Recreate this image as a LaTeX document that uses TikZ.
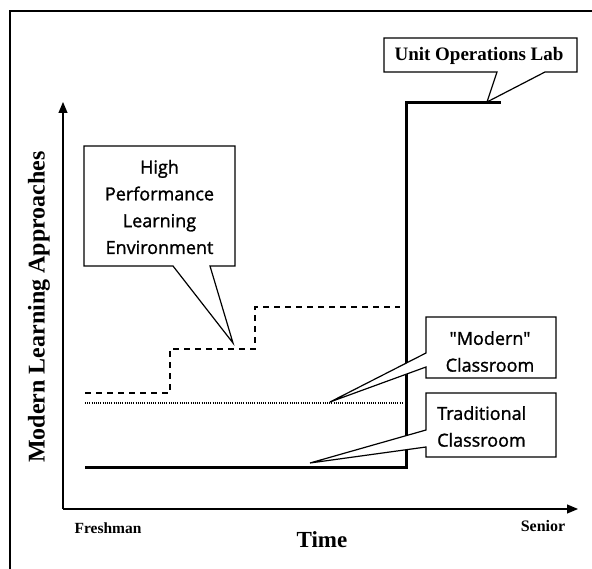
\documentclass[tikz,border=0pt]{standalone}
\usepackage{fontspec}
\setmainfont{Liberation Serif}
\newfontfamily\calloutfont[FakeBold=1.3]{Open Sans}
\usetikzlibrary{arrows.meta}
\begin{document}
\begin{tikzpicture}[x=1pt,y=-1pt,
  frameline/.style={line width=2.4pt},
  axisline/.style={line width=1.1pt,-{Triangle[length=11pt,width=9pt]}},
  callout/.style={line width=1.2pt,fill=white,line join=miter},
  callouttext/.style={font=\calloutfont\fontsize{18}{26.8}\selectfont,align=center,inner sep=0pt},
  labeltext/.style={font=\bfseries,inner sep=0pt},
  tradline/.style={line width=3pt},
  hpleline/.style={line width=1.8pt,dash pattern=on 6pt off 5pt},
  modernline/.style={line width=1.5pt,dash pattern=on 1pt off 1.2pt}]
\useasboundingbox (0,0) rectangle (592,569);
\fill[white] (0,0) rectangle (592,569);

% outer frame (open at right and bottom)
\draw[frameline] (10,569) -- (10,11) -- (592,11);

% axes
\coordinate (origin) at (63,509);
\coordinate (ytip) at (63,102);
\coordinate (xtip) at (578,509);
\draw[axisline] (origin) -- (ytip);
\draw[axisline] (origin) -- (xtip);

% axis labels
\node[labeltext,font=\bfseries\fontsize{15.5}{18}\selectfont] (fresh) at (108,528) {Freshman};
\node[labeltext,font=\bfseries\fontsize{16}{18}\selectfont] (senior) at (543,526) {Senior};
\node[labeltext,font=\bfseries\fontsize{23}{26}\selectfont] (time) at (322,540) {Time};
\node[labeltext,font=\bfseries\fontsize{24}{28}\selectfont,rotate=90] (ylab) at (39,307) {Modern Learning Approaches};

% curves
\draw[tradline] (85,467) -- (406,467) -- (406,103) -- (501,103);
\draw[hpleline] (85,393) -- (170,393) -- (170,349) -- (255,349) -- (255,307) -- (400,307);
\draw[modernline] (85,403) -- (403,403);

% pointer tips
\coordinate (hpletip) at (233,343);
\coordinate (moderntip) at (330,402);
\coordinate (tradtip) at (310,463);
\coordinate (uoltip) at (487,102);

% High Performance Learning Environment callout
\draw[callout] (84,146) -- (235,146) -- (235,266) -- (210,266) -- (hpletip)
  -- (173,266) -- (84,266) -- cycle;
\node[callouttext] (hple) at (159.5,207) {High\\Performance\\Learning\\Environment};

% "Modern" Classroom callout
\draw[callout] (426,317) -- (556,317) -- (556,378) -- (426,378) -- (426,367)
  -- (moderntip) -- (426,353) -- cycle;
\node[callouttext] (modern) at (490,351.5) {"Modern"\\Classroom};

% Traditional Classroom callout
\draw[callout] (426,393) -- (556,393) -- (556,457) -- (426,457) -- (426,447)
  -- (tradtip) -- (426,430) -- cycle;
\node[callouttext,align=left,anchor=west] (trad) at (437,426.5) {Traditional\\Classroom};

% Unit Operations Lab callout
\draw[callout] (384,38) -- (577,38) -- (577,72) -- (545,72) -- (uoltip)
  -- (497,72) -- (384,72) -- cycle;
\node[labeltext,font=\bfseries\fontsize{19}{22}\selectfont] (uol) at (479,56) {Unit Operations Lab};
\end{tikzpicture}
\end{document}
